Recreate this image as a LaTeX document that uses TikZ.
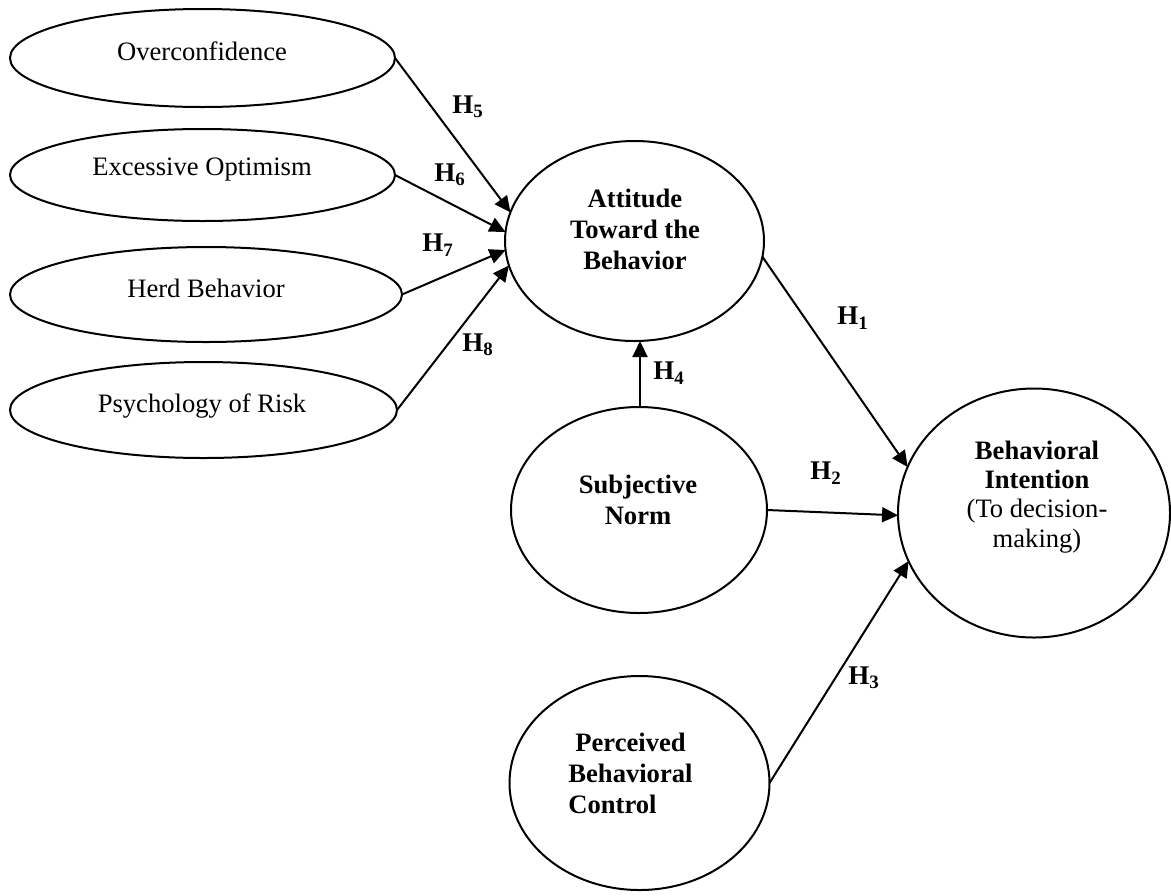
\documentclass[tikz,border=0pt]{standalone}
\usepackage{fontspec}
\setmainfont{Liberation Serif}
\usetikzlibrary{shapes.geometric,arrows.meta}
\tikzset{
  oval/.style={draw, ellipse, line width=1pt, inner sep=0pt, outer sep=0pt},
  txt/.style={inner sep=0pt, font=\fontsize{13.3}{15.5}\selectfont, align=center},
  btxt/.style={txt, font=\fontsize{13.3}{15.5}\selectfont\bfseries},
  hlab/.style={inner sep=0pt, font=\fontsize{13.5}{15}\selectfont\bfseries},
  arr/.style={line width=1pt, -{Triangle[length=8pt,width=7.5pt]}},
}
\newcommand{\hyp}[1]{H\textsubscript{#1}}
\begin{document}
\begin{tikzpicture}[x=0.5pt,y=-0.5pt]
\useasboundingbox (0,0) rectangle (1171,895);
% left ellipses (sizes in pt = px/2)
\node[oval, minimum width=192.5pt, minimum height=49pt] (oc) at (202.5,58) {};
\node[txt] (toc) at (202,51) {Overconfidence};
\node[oval, minimum width=192.5pt, minimum height=46pt] (eo) at (202.5,175) {};
\node[txt] (teo) at (202,170) {Excessive Optimism};
\node[oval, minimum width=196pt, minimum height=47.5pt] (hb) at (206,294.5) {};
\node[txt] (thb) at (206,288) {Herd Behavior};
\node[oval, minimum width=193.5pt, minimum height=48pt] (pr) at (203.5,410) {};
\node[txt] (tpr) at (202,406) {Psychology of Risk};
% attitude
\node[oval, minimum width=129.5pt, minimum height=100pt] (att) at (634.5,241) {};
\node[btxt] (tatt) at (635,229) {Attitude\\Toward the\\Behavior};
% subjective norm
\node[oval, minimum width=128pt, minimum height=103pt] (sn) at (639,510) {};
\node[btxt] (tsn) at (638,500) {Subjective\\Norm};
% perceived behavioral control
\node[oval, minimum width=130pt, minimum height=107pt] (pc) at (639.5,783) {};
\node[btxt, align=left, anchor=west] (tpc) at (568,773) {\hspace{3.5pt}Perceived\\Behavioral\\Control};
% behavioral intention
\node[oval, minimum width=136pt, minimum height=124.5pt] (bi) at (1034,513) {};
\node[txt, font=\fontsize{13.3}{14.6}\selectfont] (tbi) at (1037,497) {\textbf{Behavioral}\\\textbf{Intention}\\(To decision-\\making)};
% arrows
\draw[arr] (oc.east) -- (att.167.3);
\draw[arr] (eo.east) -- (att.176.5);
\draw[arr] (hb.east) -- (att.184);
\draw[arr] (pr.east) -- (att.191.8);
\draw[arr] (sn.north -| 640,0) coordinate (snt) -- (snt |- att.south);
\draw[arr] (att.-7.5) -- (bi.160.1);
\draw[arr] (sn.east) -- (bi.181.7);
\draw[arr] (pc.east) -- (bi.201.1);
% labels
\node[hlab] (h5) at (468,107) {\hyp{5}};
\node[hlab] (h6) at (450,175) {\hyp{6}};
\node[hlab] (h7) at (438,245) {\hyp{7}};
\node[hlab] (h8) at (478,345) {\hyp{8}};
\node[hlab] (h4) at (669,373) {\hyp{4}};
\node[hlab] (h1) at (853,318) {\hyp{1}};
\node[hlab] (h2) at (826,473) {\hyp{2}};
\node[hlab] (h3) at (864,678) {\hyp{3}};
\end{tikzpicture}
\end{document}
